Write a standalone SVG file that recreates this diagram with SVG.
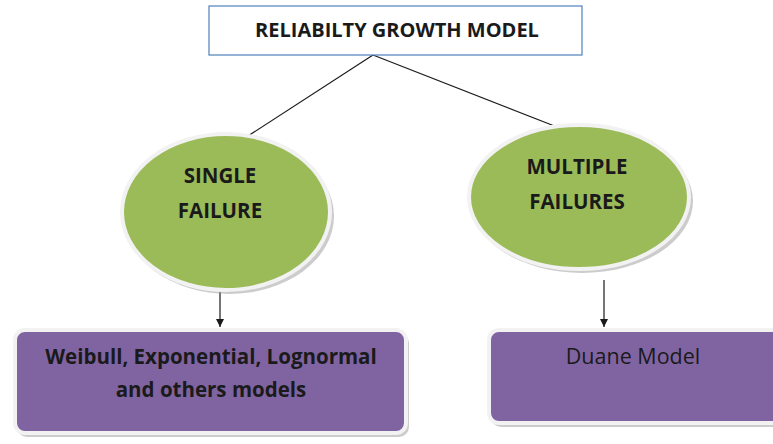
<svg xmlns="http://www.w3.org/2000/svg" width="773" height="444" viewBox="0 0 773 444">
  <style>
    .label { font-family: "Open Sans", "Liberation Sans", sans-serif; fill: #1a1a1a; text-anchor: middle; }
    .bold { font-weight: bold; }
    .title { fill: #ffffff; stroke: #4f81bd; stroke-width: 1.2; }
    .oval { fill: #9bbb59; stroke: #f2f2f2; stroke-width: 4; }
    .card { fill: #8064a2; stroke: #f2f2f2; stroke-width: 4; }
    .shade { fill: #9a9a9a; opacity: 0.5; }
    .link { stroke: #1a1a1a; stroke-width: 1.2; fill: none; }
  </style>
  <defs>
    <marker id="arrow" viewBox="0 0 10 10" refX="10" refY="5" markerWidth="8" markerHeight="8" markerUnits="userSpaceOnUse" orient="auto">
      <path d="M0,0 L10,5 L0,10 z" fill="#1a1a1a"/>
    </marker>
  </defs>

  <rect width="773" height="444" fill="#ffffff"/>

  <g id="connectors">
    <line class="link" x1="373" y1="55" x2="248" y2="136"/>
    <line class="link" x1="373" y1="55" x2="557" y2="127"/>
    <line class="link" x1="220" y1="292" x2="220" y2="327" marker-end="url(#arrow)"/>
    <line class="link" x1="604" y1="280" x2="604" y2="327" marker-end="url(#arrow)"/>
  </g>

  <g id="root">
    <rect class="title" x="209" y="6" width="373" height="49"/>
    <text class="label bold" x="397" y="37" font-size="20">RELIABILTY GROWTH MODEL</text>
  </g>

  <g id="single-failure">
    <ellipse class="shade" cx="229" cy="216" rx="105" ry="78"/>
    <ellipse class="oval" cx="226" cy="212" rx="104" ry="78"/>
    <text class="label bold" x="220" y="183" font-size="20.5">SINGLE</text>
    <text class="label bold" x="220" y="218" font-size="20.5">FAILURE</text>
  </g>

  <g id="multiple-failures">
    <ellipse class="shade" cx="582" cy="201" rx="111" ry="72"/>
    <ellipse class="oval" cx="579" cy="197" rx="110" ry="72"/>
    <text class="label bold" x="577" y="174" font-size="20.5">MULTIPLE</text>
    <text class="label bold" x="577" y="209" font-size="20.5">FAILURES</text>
  </g>

  <g id="lifetime-models">
    <rect class="shade" x="17" y="333" width="392" height="104" rx="10"/>
    <rect class="card" x="15" y="330" width="391" height="103" rx="10"/>
    <text class="label bold" x="211" y="364" font-size="20.5">Weibull, Exponential, Lognormal</text>
    <text class="label bold" x="211" y="397" font-size="20.5">and others models</text>
  </g>

  <g id="duane-model">
    <rect class="shade" x="491" y="333" width="300" height="94" rx="10"/>
    <rect class="card" x="489" y="330" width="300" height="93" rx="10"/>
    <text class="label" x="633" y="364" font-size="21.5">Duane Model</text>
  </g>
</svg>
